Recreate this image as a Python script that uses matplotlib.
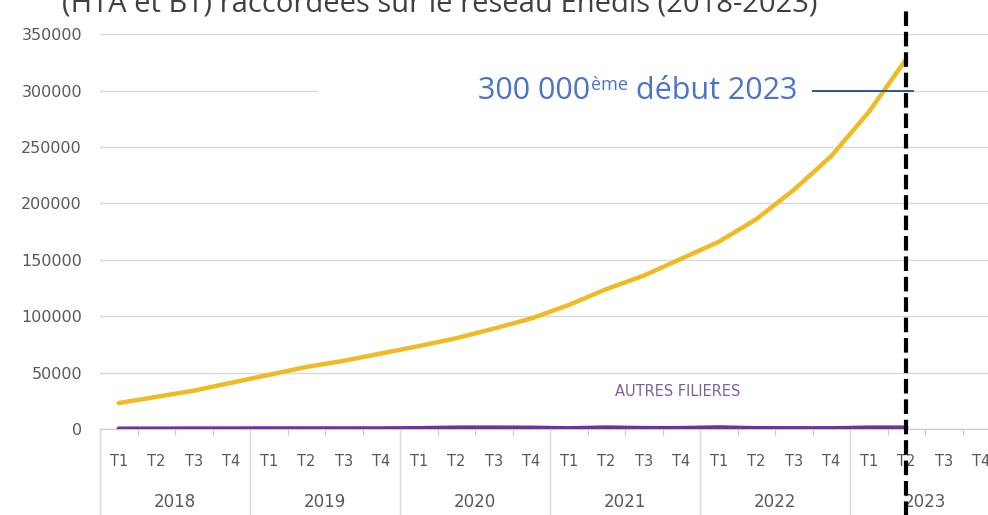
import matplotlib
matplotlib.use("Agg")
import matplotlib.pyplot as plt
from matplotlib.patches import Rectangle
from matplotlib.transforms import blended_transform_factory

# Data
years = ['2018', '2019', '2020', '2021', '2022', '2023']
quarters = ['T1', 'T2', 'T3', 'T4']
stockage = [23000, 28500, 34000, 41000, 48000, 55000, 60500, 67000,
            73500, 80500, 89000, 98000, 110000, 124000, 136000, 151000,
            166000, 186000, 212000, 242000, 281000, 328000]
autres = [300, 300, 400, 400, 500, 500, 500, 500, 700, 1200, 1200, 1100,
          600, 1300, 800, 800, 1400, 700, 600, 600, 1200, 1200]
y_ticks = [0, 50000, 100000, 150000, 200000, 250000, 300000, 350000]
milestone = 300000
milestone_idx = 21  # T2 2023

title = "(HTA et BT) raccordées sur le réseau Enedis (2018-2023)"
grey = '#595959'
grid_c = '#d9d9d9'
blue = '#4a74cc'

fig = plt.figure(figsize=(9.88, 5.15), dpi=100)
ax = fig.add_axes([100 / 988, 86 / 515, 900 / 988, 394.7 / 515])

n_cat = len(years) * len(quarters)
x = list(range(len(stockage)))

ax.set_axisbelow(True)
ax.plot(x, stockage, color='#f0bb22', lw=3.2, solid_capstyle='round', zorder=3)
ax.plot(x, autres, color='#7030a0', lw=3.2, solid_capstyle='round', zorder=3)

ax.set_xlim(-0.5, n_cat - 0.5)
ax.set_ylim(0, 350000)
ax.set_yticks(y_ticks)
ax.set_yticklabels([str(v) for v in y_ticks])
ax.grid(axis='y', color=grid_c, lw=1)
ax.tick_params(axis='y', length=0, pad=13, labelsize=11.5, labelcolor=grey)

for s in ['left', 'right', 'top']:
    ax.spines[s].set_visible(False)
ax.spines['bottom'].set_color('#c8c8c8')

# category axis: small ticks between quarters, labels drawn as text
ax.set_xticks([i - 0.5 for i in range(n_cat + 1)])
ax.set_xticklabels([])
ax.tick_params(axis='x', length=4, color='#c8c8c8', direction='out')

trans = blended_transform_factory(ax.transData, ax.transAxes)
for i in range(n_cat):
    ax.text(i, -0.083, quarters[i % 4], transform=trans, ha='center',
            va='center', fontsize=10.5, color=grey, clip_on=False)
for k, yr in enumerate(years):
    ax.text(4 * k + 1.5, -0.184, yr, transform=trans, ha='center',
            va='center', fontsize=12, color=grey, clip_on=False)
    ax.plot([4 * k - 0.5, 4 * k - 0.5], [0, -0.25], transform=trans,
            color=grid_c, lw=1, clip_on=False)

# white box behind the annotation text
ax.add_patch(Rectangle((0.242, 0.783), 0.55, 0.152, transform=ax.transAxes,
                       facecolor='white', edgecolor='none', zorder=1))
t3 = ax.text(0.7744, 0.837, " début 2023", transform=ax.transAxes,
             ha='right', va='baseline', fontsize=22, color=blue,
             family='Open Sans', zorder=4)
t2 = ax.annotate("ème", xy=(0, 1.0), xycoords=t3, ha='right', va='top',
                 fontsize=13, color=blue, family='Open Sans', zorder=4)
ax.annotate("300 000", xy=(0, 0), xycoords=(t2, t3), ha='right',
            va='bottom', fontsize=22, color=blue, family='Open Sans', zorder=4)
ax.axhline(milestone, xmin=0.792, xmax=0.903, color='#2f5597', lw=1.4, zorder=4)

# vertical dashed marker
ax.axvline(milestone_idx, ymin=-0.22, ymax=1.067, color='black', lw=3,
           linestyle=(0, (3.5, 1.4)), clip_on=False, zorder=5)

ax.text(14.9, 0.095, 'AUTRES FILIERES', transform=trans, ha='center',
        va='center', fontsize=10.5, color='#7d5fa3')

fig.text(440 / 988, 1 - 11 / 515, title, ha='center', va='baseline',
         fontsize=21, color='#404040', family='Open Sans')

fig.savefig('out.png', dpi=100)
